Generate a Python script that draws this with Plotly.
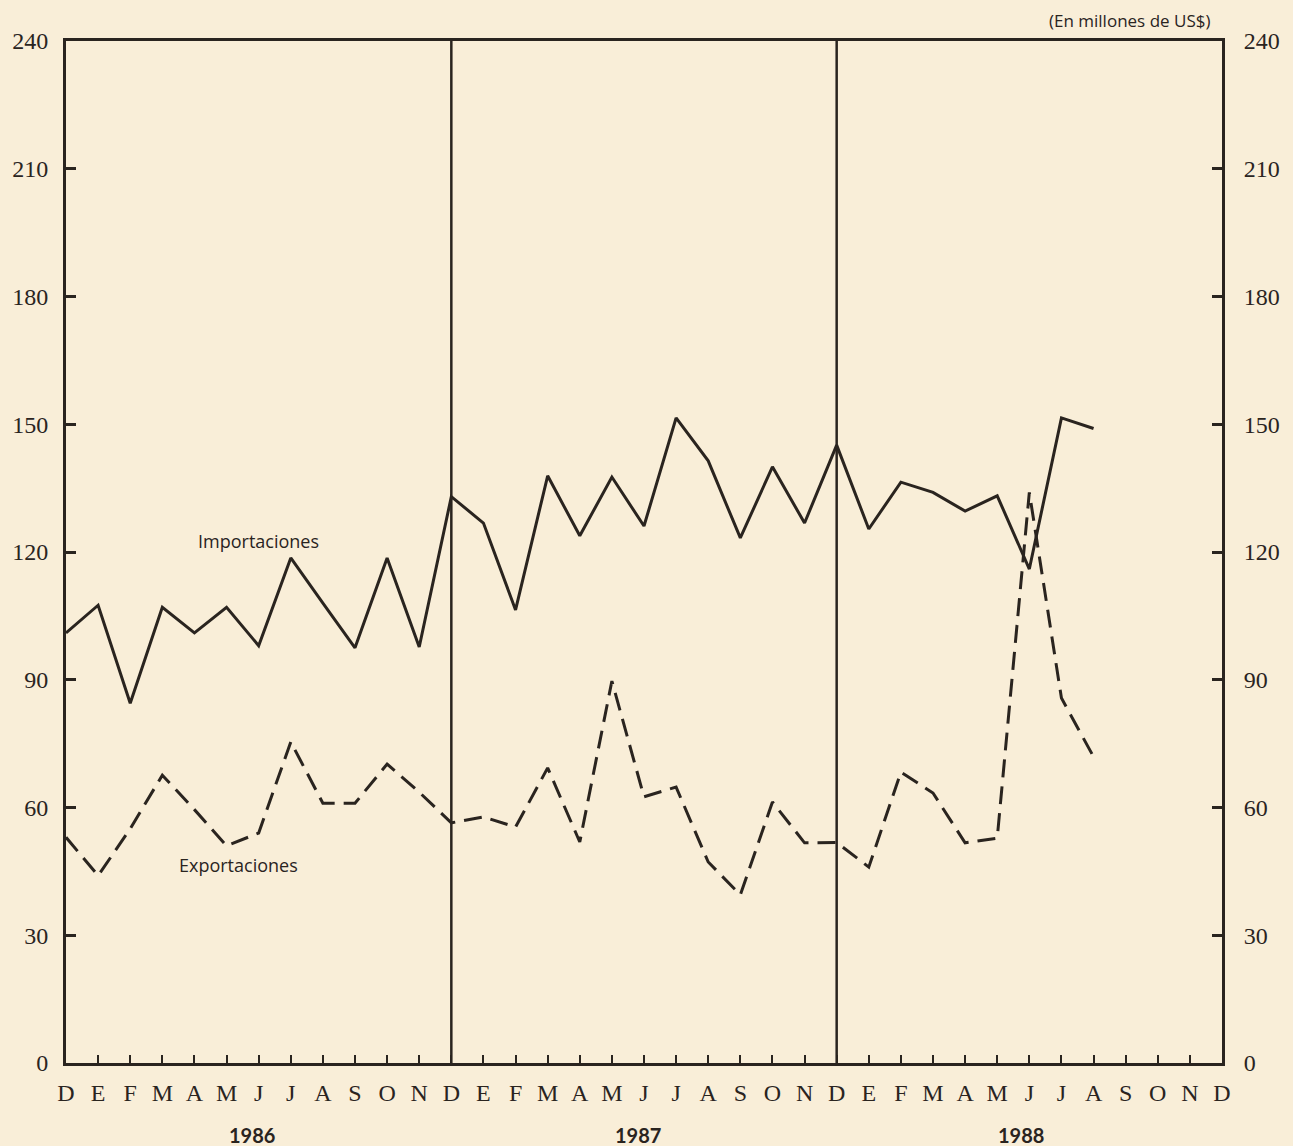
import plotly.graph_objects as go

# Month tick labels, Dec 1985 .. Dec 1988
month_labels = ["D", "E", "F", "M", "A", "M", "J", "J", "A", "S", "O", "N",
                "D", "E", "F", "M", "A", "M", "J", "J", "A", "S", "O", "N",
                "D", "E", "F", "M", "A", "M", "J", "J", "A", "S", "O", "N", "D"]

# Importaciones (million US$), Dec 1985 .. Aug 1988
importaciones = [101, 107.5, 84.5, 107, 101, 107, 98, 118.6, 108, 97.5, 118.6, 97.7,
                 133, 126.8, 106.4, 137.9, 123.8, 137.6, 126.1, 151.5, 141.4, 123.3, 140, 126.8,
                 145.1, 125.4, 136.4, 134, 129.6, 133.2, 116, 151.5, 149]

# Exportaciones (million US$), Dec 1985 .. Aug 1988
exportaciones = [53, 44, 55, 67.6, 59.5, 51, 54, 75.4, 61, 61, 70.2, 63.6,
                 56.4, 57.8, 55.4, 69.3, 51.9, 89.7, 62.5, 64.8, 47.2, 39.5, 61.3, 51.7,
                 51.8, 46, 68.3, 63.4, 51.7, 52.8, 134, 85.7, 71.9]

year_labels = ["1986", "1987", "1988"]
year_label_pos = [5.8, 17.8, 29.75]

y_ticks = [0, 30, 60, 90, 120, 150, 180, 210, 240]

INK = "#2a241f"
PAPER = "#f9eed8"

x_idx = list(range(len(month_labels)))
x_imp = x_idx[:len(importaciones)]
x_exp = x_idx[:len(exportaciones)]
dividers = [i for i, m in enumerate(month_labels) if m == "D" and 0 < i < len(month_labels) - 1]

fig = go.Figure()
fig.add_trace(go.Scatter(x=x_imp, y=importaciones, mode="lines",
                         line=dict(color=INK, width=3), name="Importaciones",
                         showlegend=False))
fig.add_trace(go.Scatter(x=x_exp, y=exportaciones, mode="lines",
                         line=dict(color=INK, width=3, dash="18px,9px"),
                         name="Exportaciones", showlegend=False))
# invisible trace to anchor right axis
fig.add_trace(go.Scatter(x=x_imp, y=importaciones, mode="lines", yaxis="y2",
                         line=dict(color="rgba(0,0,0,0)", width=0),
                         hoverinfo="skip", showlegend=False))

for d in dividers:
    fig.add_shape(type="line", xref="x", yref="y", x0=d, x1=d, y0=0, y1=240,
                  line=dict(color=INK, width=2.5))

serif = "Liberation Serif, Times New Roman, serif"
sans = "Open Sans, Noto Sans, sans-serif"
sans_bold = "Lato, Open Sans, sans-serif"

fig.add_annotation(x=5.98, y=122.6, xref="x", yref="y", text="Importaciones",
                   showarrow=False, font=dict(family=sans, size=18, color=INK))
fig.add_annotation(x=5.37, y=46.5, xref="x", yref="y", text="Exportaciones",
                   showarrow=False, font=dict(family=sans, size=18, color=INK))
fig.add_annotation(x=1.0, y=1.0, xref="paper", yref="paper", xanchor="right", yanchor="bottom",
                   xshift=-10, yshift=7, text="(En millones de US$)",
                   showarrow=False, font=dict(family=sans, size=17, color=INK))
for lbl, pos in zip(year_labels, year_label_pos):
    fig.add_annotation(x=pos, y=-0.0705, xref="x", yref="paper", yanchor="middle",
                       text="<b>" + lbl + "</b>",
                       showarrow=False, font=dict(family=sans_bold, size=20, color=INK))

fig.update_layout(
    width=1293, height=1146,
    margin=dict(l=60, r=71, t=41, b=83),
    paper_bgcolor=PAPER, plot_bgcolor=PAPER,
    xaxis=dict(range=[0, 36], tickvals=x_idx, ticktext=month_labels,
               ticks="inside", ticklen=8, tickwidth=2, tickcolor=INK,
               showline=True, linecolor=INK, linewidth=3, mirror=True,
               showgrid=False, zeroline=False, ticklabelstandoff=6,
               tickfont=dict(family=serif, size=24, color=INK)),
    yaxis=dict(range=[0, 240], tickvals=y_ticks, ticks="inside", ticklen=10, tickwidth=3,
               tickcolor=INK, showline=True, linecolor=INK, linewidth=3,
               showgrid=False, zeroline=False, ticklabelstandoff=10,
               tickfont=dict(family=serif, size=24, color=INK)),
    yaxis2=dict(range=[0, 240], tickvals=y_ticks, overlaying="y", side="right",
                ticks="inside", ticklen=10, tickwidth=3, tickcolor=INK,
                showline=True, linecolor=INK, linewidth=3,
                showgrid=False, zeroline=False, ticklabelstandoff=14,
                tickfont=dict(family=serif, size=24, color=INK)),
)

fig.write_html("out.html", config={"displayModeBar": False},
               post_script="document.body.style.margin='0';"
                           "document.body.style.background='" + PAPER + "';")
